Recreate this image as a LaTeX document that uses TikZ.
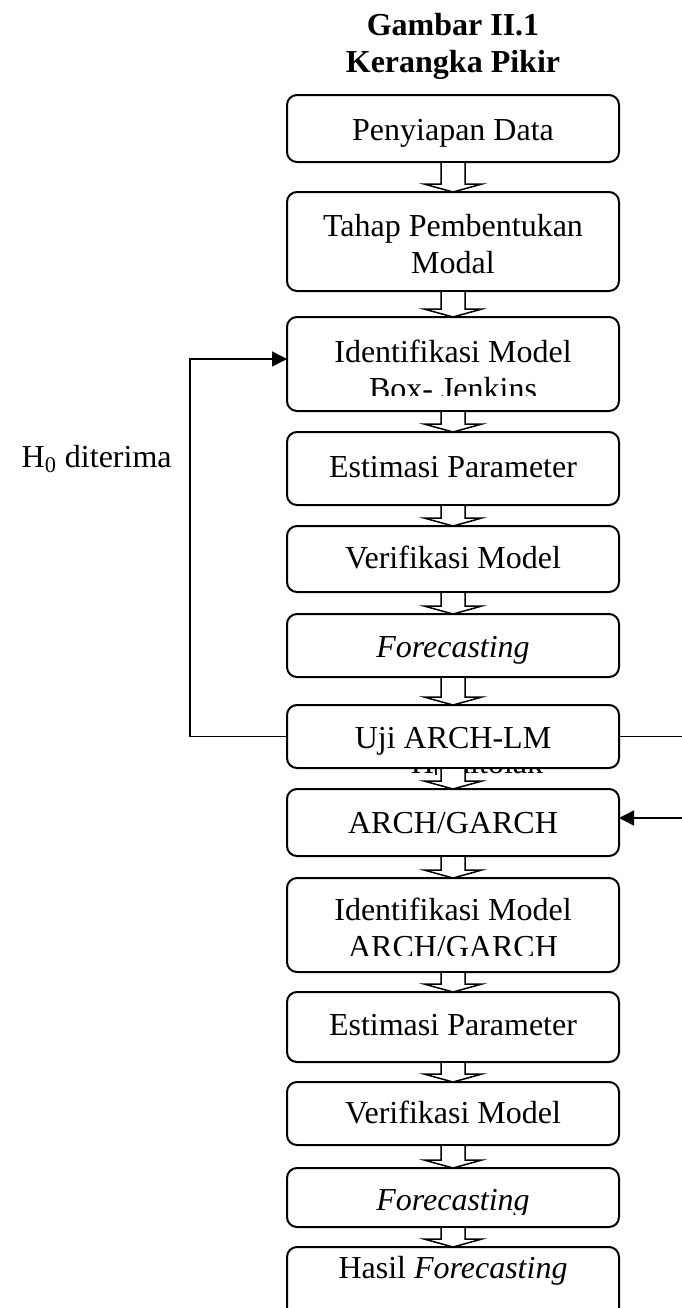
\documentclass[tikz,border=0pt]{standalone}
\usepackage{fontspec}
\setmainfont{Liberation Serif}
\usetikzlibrary{calc,arrows.meta}

\tikzset{
  box/.style={draw, line width=1pt, rounded corners=5pt, minimum width=166pt,
              inner sep=0pt, outer sep=0pt, fill=white},
  txt/.style={anchor=base, inner sep=0pt, font=\fontsize{16}{18}\selectfont},
  ttl/.style={anchor=base, inner sep=0pt, font=\fontsize{16}{18}\selectfont\bfseries},
  conn/.style={line width=0.75pt},
  tip/.style={-{Triangle[length=7.5pt,width=7.5pt]}},
  blk/.style={line width=0.75pt, fill=white, line join=miter}
}

% hollow block arrow from the bottom of one box to the top of the next
\newcommand\blockarrow[2]{%
  \draw[blk] ($(#1.south)+(-12,1)$) -- ($(#2.north)+(-12,-8)$)
    -- ($(#2.north)+(-29,-8)$) -- (#2.north) -- ($(#2.north)+(29,-8)$)
    -- ($(#2.north)+(12,-8)$) -- ($(#1.south)+(12,1)$);}

\begin{document}
\begin{tikzpicture}[x=0.5pt,y=-0.5pt]
\useasboundingbox[fill=white] (0,0) rectangle (681,1308);

% title
\node[ttl] (title1) at (453,35) {Gambar II.1};
\node[ttl] (title2) at (453,72) {Kerangka Pikir};

% label under the test box, partly hidden
\begin{scope}
  \clip (0,700) rectangle (681,774);
  \node[txt] (lrej) at (477,773) {H\textsubscript{0} ditolak};
\end{scope}

% boxes
\node[box, minimum height=33.5pt] (b1)  at (453,128.5)  {};
\node[box, minimum height=49.5pt] (b2)  at (453,241.5)  {};
\node[box, minimum height=47pt]   (b3)  at (453,364)    {};
\node[box, minimum height=36.5pt] (b4)  at (453,468.5)  {};
\node[box, minimum height=33pt]   (b5)  at (453,559)    {};
\node[box, minimum height=31.5pt] (b6)  at (453,645.5)  {};
\node[box, minimum height=31.5pt] (b7)  at (453,736.5)  {};
\node[box, minimum height=33.5pt] (b8)  at (453,822.5)  {};
\node[box, minimum height=47pt]   (b9)  at (453,925)    {};
\node[box, minimum height=35pt]   (b10) at (453,1027)   {};
\node[box, minimum height=31.5pt] (b11) at (453,1113.5) {};
\node[box, minimum height=29.5pt] (b12) at (453,1197.5) {};
\node[box, minimum height=46.5pt] (b13) at (453,1293.5) {};

% box texts
\node[txt] (t1)  at (453,140)  {Penyiapan Data};
\node[txt] (t2a) at (453,236)  {Tahap Pembentukan};
\node[txt] (t2b) at (453,273)  {Modal};
\node[txt] (t3a) at (453,362)  {Identifikasi Model};
\begin{scope}
  \clip (287,370) rectangle (619,395);
  \node[txt] (t3b) at (453,399) {Box- Jenkins};
\end{scope}
\node[txt] (t4)  at (453,477)  {Estimasi Parameter};
\node[txt] (t5)  at (453,568)  {Verifikasi Model};
\node[txt] (t6)  at (453,657)  {\itshape Forecasting};
\node[txt] (t7)  at (453,748)  {Uji ARCH-LM};
\node[txt] (t8)  at (453,833)  {ARCH/GARCH};
\node[txt] (t9a) at (453,920)  {Identifikasi Model};
\begin{scope}
  \clip (287,928) rectangle (619,955);
  \node[txt] (t9b) at (453,957) {ARCH/GARCH};
\end{scope}
\node[txt] (t10) at (453,1035) {Estimasi Parameter};
\node[txt] (t11) at (453,1123) {Verifikasi Model};
\begin{scope}
  \clip (287,1170) rectangle (619,1214);
  \node[txt] (t12) at (453,1210) {\itshape Forecasting};
\end{scope}
\node[txt] (t13) at (453,1278) {Hasil \textit{Forecasting}};

% flow arrows
\blockarrow{b1}{b2}
\blockarrow{b2}{b3}
\blockarrow{b3}{b4}
\blockarrow{b4}{b5}
\blockarrow{b5}{b6}
\blockarrow{b6}{b7}
\blockarrow{b7}{b8}
\blockarrow{b8}{b9}
\blockarrow{b9}{b10}
\blockarrow{b10}{b11}
\blockarrow{b11}{b12}
\blockarrow{b12}{b13}

% feedback loops
\coordinate (lt) at (190,359);
\draw[conn,tip] (b7.west) -| (lt) -- (lt -| b3.west);
\coordinate (rb) at (740,818);
\draw[conn,tip] (b7.east) -| (rb) -- (rb -| b8.east);

\node[txt, anchor=base east] (lacc) at (172,467) {H\textsubscript{0} diterima};
\end{tikzpicture}
\end{document}
